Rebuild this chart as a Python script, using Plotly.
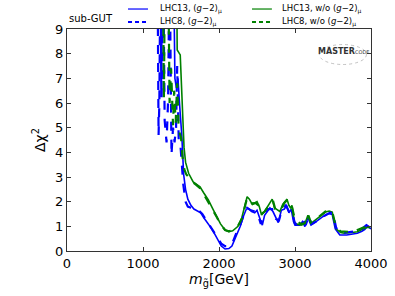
import plotly.graph_objects as go

# LHC13, with (g-2)_mu  (blue solid)
m_b13 = [1220, 1240, 1260, 1400, 1420, 1440, 1460, 1480, 1510, 1535, 1560, 1590, 1630, 1670, 1720,
         1760, 1800, 1850, 1900, 1950, 1990, 2030, 2080, 2130, 2170, 2230, 2280, 2320, 2360, 2390,
         2430, 2470, 2500, 2540, 2570, 2600, 2640, 2670, 2710, 2750, 2780, 2820, 2860, 2890, 2920,
         2950, 2980, 3000, 3060, 3100, 3130, 3170, 3210, 3260, 3310, 3370, 3440, 3490, 3530, 3590,
         3680, 3760, 3820, 3880, 3920, 3950, 3980, 4000]
c_b13 = [12, 6.5, 12, 12, 7.0, 6.6, 7.0, 6.0, 4.7, 3.1, 2.5, 2.1, 1.85, 1.7, 1.63,
         1.55, 1.35, 1.15, 0.92, 0.65, 0.45, 0.2, 0.08, 0.1, 0.2, 0.65, 1.0, 1.4, 1.7, 1.72,
         1.6, 1.55, 1.65, 1.3, 1.05, 1.45, 1.6, 1.75, 1.6, 1.3, 1.15, 1.65, 1.7, 1.85, 1.55,
         1.7, 1.2, 1.05, 1.05, 1.2, 0.99, 1.35, 1.05, 1.15, 1.28, 1.4, 1.52, 1.48, 0.9, 0.65,
         0.65, 0.7, 0.72, 0.8, 0.88, 1.0, 0.92, 0.9]

# LHC13, without (g-2)_mu  (green solid)
m_g13 = [1440, 1450, 1490, 1515, 1540, 1560, 1600, 1660, 1700, 1750, 1800, 1860, 1920, 1970, 2020,
         2080, 2130, 2180, 2250, 2300, 2340, 2370, 2400, 2430, 2470, 2500, 2530, 2560, 2600, 2630,
         2670, 2700, 2730, 2770, 2800, 2840, 2870, 2895, 2920, 2940, 2960, 2990, 3010, 3080, 3130,
         3170, 3210, 3270, 3330, 3400, 3450, 3490, 3540, 3600, 3650, 3750, 3820, 3900, 3950, 3990]
c_g13 = [12, 8.15, 7.95, 5.8, 4.2, 3.6, 3.15, 2.8, 2.7, 2.6, 2.35, 2.07, 1.7, 1.4, 1.1,
         0.85, 0.78, 0.82, 1.0, 1.35, 1.8, 2.2, 2.1, 1.93, 1.95, 2.0, 1.8, 1.46, 1.6, 1.75,
         1.95, 2.1, 1.75, 1.65, 1.6, 1.9, 2.0, 2.1, 1.85, 1.75, 1.85, 1.2, 1.1, 1.05, 1.1,
         1.45, 1.12, 1.25, 1.4, 1.58, 1.62, 1.58, 0.9, 0.75, 0.72, 0.75, 0.78, 0.9, 0.95, 0.95]

# LHC8, with (g-2)_mu  (blue dashed)
m_b8 = [1190, 1205, 1215, 1230, 1245, 1265, 1285, 1310, 1330, 1350, 1375, 1395, 1415, 1435, 1450,
        1470, 1490, 1510, 1530, 1560, 1590, 1630, 1680, 1730, 1780, 1830, 1880, 1930, 1980, 2030,
        2080, 2130, 2180, 2230, 2280, 2330, 2370, 2420, 2470, 2510, 2550, 2600, 2650, 2700, 2750,
        2790, 2830, 2880, 2920, 2960, 3000, 3060, 3110, 3140, 3180, 3220, 3280, 3340, 3400, 3460,
        3500, 3540, 3600, 3700, 3800, 3880, 3940, 3990]
c_b8 = [12, 4.7, 6.0, 12, 6.2, 12, 5.3, 4.4, 6.1, 12, 3.9, 5.0, 4.4, 5.0, 7.5,
        4.5, 4.4, 3.5, 2.7, 2.0, 1.8, 1.75, 1.7, 1.65, 1.5, 1.25, 1.05, 0.8, 0.55, 0.3,
        0.2, 0.2, 0.35, 0.75, 1.05, 1.5, 1.75, 1.65, 1.6, 1.5, 1.1, 1.5, 1.7, 1.7, 1.3,
        1.25, 1.7, 1.85, 1.6, 1.6, 1.1, 1.1, 1.25, 1.05, 1.4, 1.1, 1.2, 1.35, 1.45, 1.55,
        1.55, 0.95, 0.72, 0.75, 0.8, 0.9, 1.05, 0.95]

# LHC8, without (g-2)_mu  (green dashed)
m_g8 = [1260, 1275, 1290, 1330, 1350, 1370, 1395, 1410, 1430, 1450, 1470, 1500, 1520, 1545, 1570,
        1600, 1650, 1700, 1750, 1800, 1860, 1920, 1970, 2020, 2080, 2130, 2180, 2250, 2300, 2340,
        2370, 2400, 2440, 2480, 2520, 2560, 2600, 2640, 2680, 2710, 2740, 2780, 2820, 2860, 2890,
        2930, 2960, 3000, 3080, 3130, 3170, 3210, 3270, 3330, 3400, 3450, 3490, 3540, 3600, 3700,
        3800, 3900, 3960, 3990]
c_g8 = [12, 6.2, 12, 12, 6.0, 7.4, 5.1, 6.5, 5.2, 6.8, 4.9, 4.6, 3.8, 3.3, 3.1,
        3.0, 2.8, 2.68, 2.55, 2.3, 2.0, 1.65, 1.38, 1.08, 0.85, 0.8, 0.85, 1.02, 1.3, 1.75,
        2.15, 2.05, 1.9, 1.95, 1.85, 1.5, 1.6, 1.78, 1.95, 2.05, 1.7, 1.6, 1.7, 1.95, 2.05,
        1.8, 1.8, 1.25, 1.1, 1.12, 1.5, 1.15, 1.28, 1.42, 1.6, 1.65, 1.6, 0.95, 0.8, 0.78,
        0.82, 0.95, 1.0, 0.98]

x_ticks = [0, 1000, 2000, 3000, 4000]
y_ticks = [0, 1, 2, 3, 4, 5, 6, 7, 8, 9]

series_names = ["LHC13, (<i>g</i>−2)<sub>μ</sub>", "LHC13, w/o (<i>g</i>−2)<sub>μ</sub>",
                "LHC8, (<i>g</i>−2)<sub>μ</sub>", "LHC8, w/o (<i>g</i>−2)<sub>μ</sub>"]

BLUE = "#0000ff"
GREEN = "#008000"
styles = [dict(color=BLUE, width=1.6), dict(color=GREEN, width=1.6),
          dict(color=BLUE, width=2.2, dash="dash"), dict(color=GREEN, width=2.2, dash="dash")]
leg_styles = [dict(color=BLUE, width=1.2), dict(color=GREEN, width=1.2),
              dict(color=BLUE, width=2, dash="4px,3px"), dict(color=GREEN, width=2, dash="4px,3px")]

fig = go.Figure()
for xs, ys, nm, st in zip([m_b13, m_g13, m_b8, m_g8], [c_b13, c_g13, c_b8, c_g8], series_names, styles):
    fig.add_trace(go.Scatter(x=xs, y=ys, mode="lines", name=nm, line=st, showlegend=False))

axis_common = dict(showgrid=False, zeroline=False, showline=True, linecolor="#333333", linewidth=1,
                   mirror="ticks", ticks="inside", ticklen=4, tickcolor="#333333",
                   tickfont=dict(family="DejaVu Sans", size=13, color="black"), automargin=False)

fig.update_layout(
    width=395, height=296,
    margin=dict(l=67, r=24, t=29, b=45),
    paper_bgcolor="white", plot_bgcolor="white",
    font=dict(family="DejaVu Sans", color="black"),
    xaxis=dict(range=[0, 4000], tickvals=x_ticks, **axis_common,
               title=dict(text="<i>m</i><sub>g̃</sub>[GeV]", font=dict(size=14), standoff=4)),
    yaxis=dict(range=[0, 9], tickvals=y_ticks, **axis_common,
               title=dict(text="Δχ<sup>2</sup>", font=dict(size=14), standoff=6)),
    showlegend=False,
)

# manual legend (2 columns x 2 rows) above the plot
leg_cols = [(0.2007, 0.2664, 0.299), (0.6086, 0.674, 0.7007)]
leg_rows = [1.09, 1.0315]
order = [(0, 0), (1, 0), (0, 1), (1, 1)]  # (col,row) for each series
for (ci, ri), nm, st in zip(order, series_names, leg_styles):
    x0, x1, xt = leg_cols[ci]
    yy = leg_rows[ri]
    fig.add_shape(type="line", xref="paper", yref="paper", x0=x0, x1=x1, y0=yy, y1=yy,
                  line=st)
    fig.add_annotation(text=nm, xref="paper", yref="paper", x=xt, y=yy, xanchor="left",
                       yanchor="middle", showarrow=False, font=dict(size=8.5, color="black"))

fig.add_annotation(text="sub-GUT", xref="paper", yref="paper", x=0, y=1.015,
                   xanchor="left", yanchor="bottom", showarrow=False,
                   font=dict(size=10, color="black"))
fig.add_annotation(text="<b>MASTER</b><span style='font-size:5px'>CODE</span>", xref="paper", yref="paper",
                   x=0.91, y=0.90, xanchor="center", yanchor="middle", showarrow=False,
                   font=dict(size=8, color="#333333"))
fig.add_shape(type="circle", xref="paper", yref="paper", x0=0.83, x1=0.985, y0=0.84, y1=0.93,
              line=dict(color="#999999", width=0.6, dash="dot"))

fig.write_html("out.html", config={"displayModeBar": False},
               post_script="document.body.style.margin='0';document.body.style.padding='0';")
